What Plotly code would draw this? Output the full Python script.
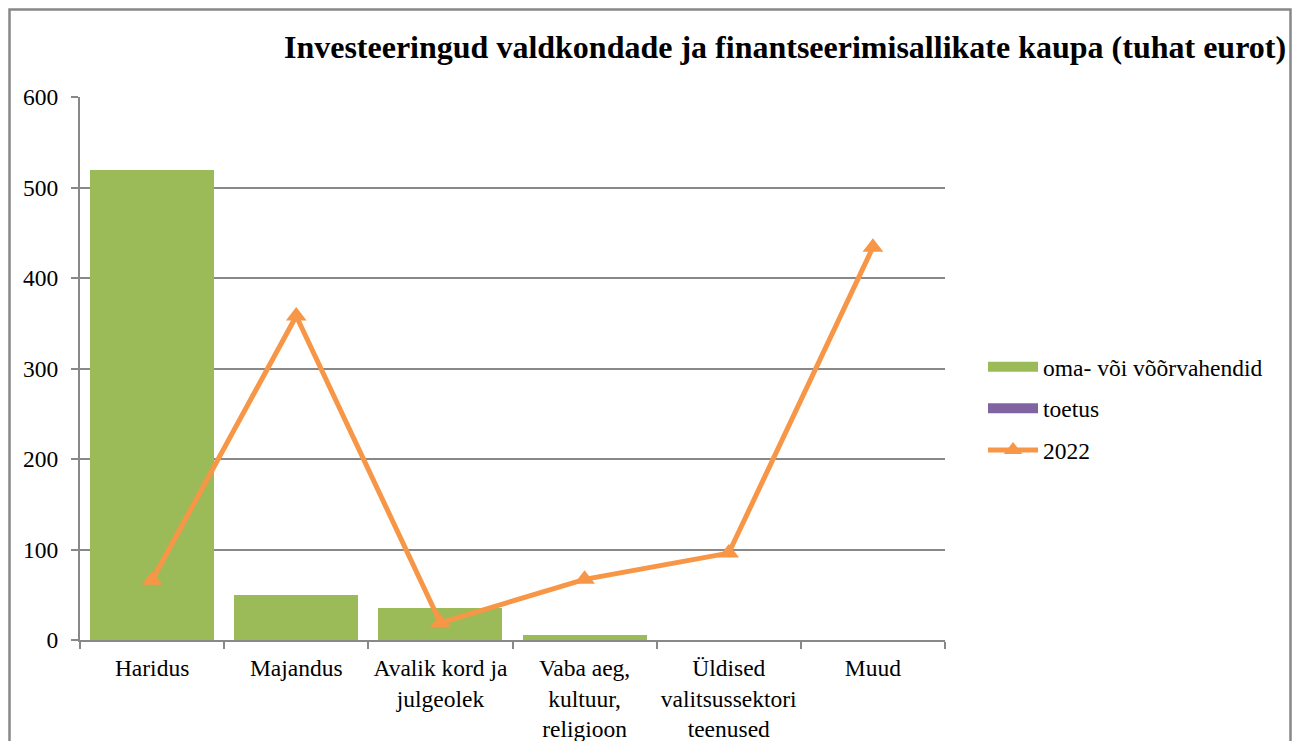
import plotly.graph_objects as go

categories = ["Haridus", "Majandus", "Avalik kord ja<br>julgeolek", "Vaba aeg,<br>kultuur,<br>religioon",
              "Üldised<br>valitsussektori<br>teenused", "Muud"]
oma_voi_voor = [519, 50, 35, 5, 0, 0]
toetus = [0, 0, 0, 0, 0, 0]
y2022 = [66, 358, 19, 67, 96, 434]
y_ticks = [0, 100, 200, 300, 400, 500, 600]

W, H = 1300, 749
OFF = 8  # page body margin
FW, FH = W - 2 * OFF, H - 2 * OFF
L, R, T, B = 80, 945, 97, 640   # plot area in screen pixels
pw, ph = R - L, B - T

def px(x):
    return (x - L) / pw

def py(y):
    return (B - y) / ph

font = "Liberation Serif, Times New Roman, serif"
FS = 23.5

fig = go.Figure()
fig.add_trace(go.Bar(x=categories, y=oma_voi_voor, name="oma- või võõrvahendid", showlegend=False,
                     marker=dict(color="#9BBB59", line=dict(width=0))))
fig.add_trace(go.Bar(x=categories, y=toetus, name="toetus", showlegend=False,
                     marker=dict(color="#8064A2", line=dict(width=0))))
fig.add_trace(go.Scatter(x=[None], y=[None], name="oma- või võõrvahendid", mode="lines",
                         legendgroup="a", line=dict(color="#9BBB59", width=12)))
fig.add_trace(go.Scatter(x=[None], y=[None], name="toetus", mode="lines",
                         legendgroup="b", line=dict(color="#8064A2", width=12)))
fig.add_trace(go.Scatter(x=categories, y=y2022, name="2022", mode="lines+markers",
                         legendgroup="c", line=dict(color="#F79646", width=5),
                         marker=dict(symbol="triangle-up", size=18, color="#F79646")))

fig.update_layout(
    width=FW, height=FH,
    margin=dict(l=L - OFF, r=(OFF + FW) - R, t=T - OFF, b=(OFF + FH) - B, autoexpand=False),
    barmode="stack", bargap=0.14,
    plot_bgcolor="white", paper_bgcolor="white",
    font=dict(family=font, size=FS, color="black"),
    title=dict(text="<b>Investeeringud valdkondade ja finantseerimisallikate kaupa (tuhat eurot)</b>",
               x=px(785), xref="paper", xanchor="center", y=1 - (47 - OFF) / FH, yanchor="middle",
               font=dict(family=font, size=32, color="black")),
    legend=dict(x=px(983), y=py(345), xanchor="left", yanchor="top",
                font=dict(family=font, size=FS), tracegroupgap=8, itemwidth=50,
                bgcolor="rgba(0,0,0,0)", traceorder="grouped"),
    showlegend=True,
)
fig.update_xaxes(type="category", showgrid=False, showline=True, linecolor="#888888", linewidth=2,
                 ticks="outside", tickson="boundaries", ticklen=7, tickcolor="#888888", tickwidth=2,
                 tickangle=0, ticklabelstandoff=6, tickfont=dict(family=font, size=FS))
fig.update_yaxes(range=[0, 600], tickvals=y_ticks, showgrid=True, gridcolor="#888888", gridwidth=2,
                 showline=True, linecolor="#888888", linewidth=2, zeroline=False,
                 ticks="outside", ticklen=7, tickcolor="#888888", tickwidth=2,
                 ticklabelstandoff=8, tickfont=dict(family=font, size=FS))
fig.add_shape(type="rect", xref="paper", yref="paper",
              x0=px(OFF + 1.5), x1=px(OFF + FW - 1.5), y0=py(OFF + FH + 10), y1=py(OFF + 1.5),
              line=dict(color="#888888", width=2.5), fillcolor="rgba(0,0,0,0)", layer="below")

fig.write_html("out.html")
